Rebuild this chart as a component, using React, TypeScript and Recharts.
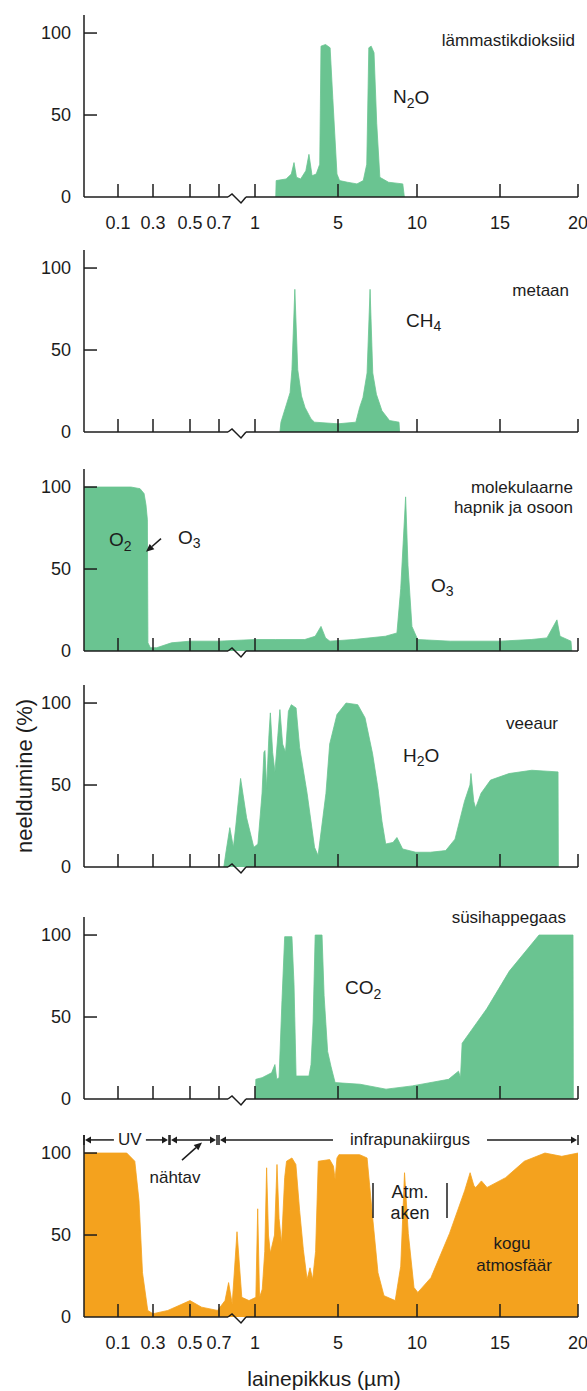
import React from 'react'
import { AreaChart, Area, XAxis, YAxis, ReferenceLine, ReferenceDot } from 'recharts'

const GREEN = '#6ac491'
const ORANGE = '#f4a21e'
const INK = '#1c1c1c'
const FONT = '"Liberation Sans", Arial, Helvetica, sans-serif'

// broken, piecewise x axis: wavelength (µm) -> position along the axis
const AXIS_WL = [0, 0.1, 0.3, 0.5, 0.7, 1, 5, 10, 15, 20]
const AXIS_POS = [0, 34, 69, 106, 135, 171, 254, 333, 416, 494]
const BREAK_POS = 157

const TICK_WL = [0.1, 0.3, 0.5, 0.7, 1, 5, 10, 15, 20]
const TICK_LABELS = ['0.1', '0.3', '0.5', '0.7', '1', '5', '10', '15', '20']
const Y_TICKS = [0, 50, 100]

// lämmastikdioksiid
const N2O_WL = [2.0, 2.02, 2.5, 2.75, 2.88, 3.0, 3.2, 3.45, 3.6, 3.75, 3.95, 4.12, 4.18, 4.4, 4.62, 4.75, 4.95, 5.1, 5.6, 6.2, 6.6, 6.82, 6.95, 7.1, 7.28, 7.45, 7.65, 8.2, 9.1, 9.2]
const N2O_ABS = [0, 10, 11, 14, 21, 12, 11, 16, 26, 13, 14, 20, 92, 93, 91, 60, 14, 10, 9, 8, 10, 20, 91, 92, 88, 45, 12, 9, 8, 0]

// metaan
const CH4_WL = [2.2, 2.25, 2.52, 2.69, 2.78, 2.92, 3.06, 3.24, 3.41, 3.7, 3.87, 5.0, 6.13, 6.37, 6.58, 6.84, 7.03, 7.2, 7.43, 7.78, 8.26, 8.86, 8.9]
const CH4_ABS = [0, 6, 17, 24, 38, 87, 38, 22, 15, 8, 6, 5, 6, 15, 21, 36, 87, 36, 23, 13, 7, 6, 0]

// molekulaarne hapnik ja osoon
const O3_WL = [0, 0.174, 0.226, 0.249, 0.26, 0.268, 0.271, 0.285, 0.32, 0.4, 0.5, 0.7, 1, 2, 3.4, 3.9, 4.18, 4.4, 4.61, 6, 8, 8.73, 8.97, 9.28, 9.43, 9.68, 10.04, 12, 15, 17, 18.01, 18.65, 18.85, 19.55, 19.6]
const O3_ABS = [100, 100, 99, 96, 89, 80, 5, 2, 2, 5, 6, 6, 7, 7, 7, 9, 15, 8, 6, 7, 9, 11, 38, 94, 52, 15, 7, 6, 6, 7, 8, 19, 9, 6, 0]

// veeaur
const H2O_WL = [0.74, 0.76, 0.79, 0.82, 0.84, 0.88, 0.93, 0.99, 1.14, 1.34, 1.43, 1.48, 1.56, 1.67, 1.74, 1.85, 1.96, 2.1, 2.2, 2.33, 2.47, 2.61, 2.75, 2.98, 3.15, 3.51, 3.87, 4.04, 4.27, 4.42, 4.6, 4.95, 5.51, 6.25, 6.71, 7.19, 7.53, 7.78, 8.02, 8.48, 8.73, 9.09, 9.92, 10.8, 11.73, 12.29, 12.86, 13.19, 13.25, 13.42, 13.53, 13.86, 14.43, 15.58, 17.04, 18.72, 18.74]
const H2O_ABS = [0, 10, 24, 12, 25, 54, 30, 12, 14, 45, 70, 71, 48, 80, 94, 70, 58, 80, 96, 75, 70, 95, 99, 97, 73, 45, 12, 7, 30, 45, 75, 93, 100, 99, 91, 69, 48, 28, 14, 15, 18, 11, 9, 9, 10, 17, 40, 50, 57, 40, 36, 45, 53, 57, 59, 58, 0]

// süsihappegaas
const CO2_WL = [1.02, 1.04, 1.34, 1.8, 1.96, 2.05, 2.16, 2.3, 2.43, 2.78, 2.88, 2.98, 3.6, 3.7, 3.8, 3.9, 4.23, 4.33, 4.5, 4.66, 4.86, 6.4, 8.04, 9.7, 11.9, 12.5, 12.62, 12.72, 14.2, 15.6, 17.5, 19.68, 19.7]
const CO2_ABS = [0, 12, 13, 16, 21, 12, 13, 60, 99, 99, 70, 14, 14, 21, 47, 100, 100, 63, 29, 20, 10, 9, 6, 8, 12, 17, 13, 34, 55, 78, 100, 100, 0]

// kogu atmosfäär
const ATM_WL = [0, 0.15, 0.196, 0.22, 0.24, 0.27, 0.3, 0.38, 0.5, 0.58, 0.69, 0.75, 0.78, 0.81, 0.85, 0.89, 0.95, 1.04, 1.13, 1.22, 1.35, 1.47, 1.56, 1.65, 1.74, 1.94, 2.06, 2.16, 2.28, 2.43, 2.52, 2.78, 2.97, 3.15, 3.33, 3.51, 3.65, 3.78, 3.92, 4.05, 4.6, 4.78, 4.86, 4.95, 5.06, 6.37, 6.84, 7.19, 7.53, 7.91, 8.62, 8.97, 9.21, 9.45, 9.81, 10.05, 10.84, 11.96, 12.87, 13.2, 13.43, 13.54, 13.88, 14.22, 15.36, 16.56, 17.88, 18.96, 20]
const ATM_ABS = [100, 100, 95, 71, 27, 4, 2, 4, 10, 6, 4, 10, 21, 8, 52, 12, 10, 12, 66, 12, 17, 40, 91, 50, 39, 50, 93, 60, 45, 85, 95, 97, 93, 65, 41, 23, 30, 23, 40, 95, 96, 92, 84, 97, 99, 99, 97, 61, 27, 13, 10, 31, 88, 51, 18, 15, 24, 51, 77, 88, 80, 79, 83, 79, 85, 95, 100, 98, 100]

function warp(wl: number) {
  for (let i = 1; i < AXIS_WL.length; i++) {
    if (wl <= AXIS_WL[i]) {
      const t = (wl - AXIS_WL[i - 1]) / (AXIS_WL[i] - AXIS_WL[i - 1])
      return AXIS_POS[i - 1] + t * (AXIS_POS[i] - AXIS_POS[i - 1])
    }
  }
  return AXIS_POS[AXIS_POS.length - 1]
}

const TICK_POS = TICK_WL.map(warp)

function rows(wl: number[], abs: number[]) {
  const n = Math.min(wl.length, abs.length)
  return wl.slice(0, n).map((w, i) => ({ x: warp(w), a: abs[i] }))
}

const PLOT_H = 182
const TOP = 12

const txt = { fontFamily: FONT, fill: INK }

function XTick(props: any) {
  const { x, y, payload, showLabel } = props
  const i = TICK_POS.findIndex((v) => Math.abs(v - payload.value) < 0.01)
  return (
    <g>
      <line x1={x} x2={x} y1={y} y2={y - 13} stroke={INK} strokeWidth={1.5} />
      {showLabel && (
        <text x={x} y={y + 26} textAnchor="middle" dominantBaseline="central" fontSize={18} {...txt}>
          {TICK_LABELS[i]}
        </text>
      )}
    </g>
  )
}

function YTick(props: any) {
  const { x, y, payload } = props
  return (
    <g>
      {payload.value > 0 && <line x1={x} x2={x + 13} y1={y} y2={y} stroke={INK} strokeWidth={1.5} />}
      <text x={x - 13} y={y} textAnchor="end" dominantBaseline="central" fontSize={18} {...txt}>
        {payload.value}
      </text>
    </g>
  )
}

function BreakMark(props: any) {
  const yb = Math.max(props.y1, props.y2)
  const x = props.x1
  return (
    <path
      d={`M${x - 13},${yb} L${x - 9},${yb - 3} L${x},${yb + 6} L${x + 5},${yb}`}
      fill="none"
      stroke={INK}
      strokeWidth={1.5}
    />
  )
}

function note(key: string, x: number, y: number, body: React.ReactNode, anchor = 'start', size = 17) {
  return (
    <ReferenceDot
      key={key}
      x={x}
      y={y}
      r={1}
      ifOverflow="visible"
      shape={(p: any) => (
        <text x={p.cx} y={p.cy} textAnchor={anchor} dominantBaseline="central" fontSize={size} {...txt}>
          {body}
        </text>
      )}
    />
  )
}

function formula(main: string, sub: string, tail = '') {
  return (
    <>
      {main}
      <tspan fontSize={14} dy={6}>{sub}</tspan>
      {tail && <tspan dy={-6}>{tail}</tspan>}
    </>
  )
}

function ArrowShape(props: any) {
  const { x1, y1, x2, y2 } = props
  const a = Math.atan2(y2 - y1, x2 - x1)
  const c = Math.cos(a)
  const s = Math.sin(a)
  const bx = x2 - 8 * c
  const by = y2 - 8 * s
  return (
    <g>
      <line x1={x1} y1={y1} x2={bx} y2={by} stroke={INK} strokeWidth={1.5} />
      <polygon points={`${x2},${y2} ${bx + 3.5 * s},${by - 3.5 * c} ${bx - 3.5 * s},${by + 3.5 * c}`} fill={INK} />
    </g>
  )
}

function arrow(key: string, from: number[], to: number[]) {
  return (
    <ReferenceLine
      key={key}
      segment={[{ x: from[0], y: from[1] }, { x: to[0], y: to[1] }]}
      ifOverflow="visible"
      shape={ArrowShape}
    />
  )
}

// |<--- label --->| span used for UV / nähtav / infrapunakiirgus
function span(key: string, from: number, to: number, y: number, label = '', at = 0.5, gap = 0) {
  const shape = (p: any) => {
    const { x1, x2, y1: yy } = p
    const mid = x1 + (x2 - x1) * at
    return (
      <g>
        <line x1={x1} x2={x1} y1={yy - 5} y2={yy + 5} stroke={INK} strokeWidth={1.5} />
        <line x1={x2} x2={x2} y1={yy - 5} y2={yy + 5} stroke={INK} strokeWidth={1.5} />
        <polygon points={`${x1 + 1},${yy} ${x1 + 7},${yy - 3.5} ${x1 + 7},${yy + 3.5}`} fill={INK} />
        <polygon points={`${x2 - 1},${yy} ${x2 - 7},${yy - 3.5} ${x2 - 7},${yy + 3.5}`} fill={INK} />
        {label ? (
          <>
            <line x1={x1 + 6} x2={mid - gap} y1={yy} y2={yy} stroke={INK} strokeWidth={1.5} />
            <line x1={mid + gap} x2={x2 - 6} y1={yy} y2={yy} stroke={INK} strokeWidth={1.5} />
            <text x={mid} y={yy} textAnchor="middle" dominantBaseline="central" fontSize={17} {...txt}>
              {label}
            </text>
          </>
        ) : (
          <line x1={x1 + 6} x2={x2 - 6} y1={yy} y2={yy} stroke={INK} strokeWidth={1.5} />
        )}
      </g>
    )
  }
  return (
    <ReferenceLine
      key={key}
      segment={[{ x: from, y }, { x: to, y }]}
      ifOverflow="visible"
      shape={shape}
    />
  )
}

function bar(key: string, x: number, lo: number, hi: number) {
  return (
    <ReferenceLine
      key={key}
      segment={[{ x, y: lo }, { x, y: hi }]}
      ifOverflow="visible"
      stroke={INK}
      strokeWidth={1.5}
    />
  )
}

const yTitle = (p: any) => {
  const vb = p.viewBox
  return (
    <text
      transform={`translate(24, ${vb.y + vb.height / 2}) rotate(-90)`}
      textAnchor="middle"
      dominantBaseline="central"
      fontSize={22}
      {...txt}
    >
      neeldumine (%)
    </text>
  )
}

const xTitle = (p: any) => {
  const vb = p.viewBox
  return (
    <text x={vb.x + vb.width / 2 - 7} y={vb.y + 61} textAnchor="middle" dominantBaseline="central" fontSize={21} {...txt}>
      lainepikkus (µm)
    </text>
  )
}

type PanelProps = {
  y0: number
  data: { x: number; a: number }[]
  color: string
  labels?: boolean
  notes: React.ReactNode[]
  withYTitle?: boolean
  withXTitle?: boolean
}

function Panel({ y0, data, color, labels, notes, withYTitle, withXTitle }: PanelProps) {
  const bottom = withXTitle ? 40 : 6
  const height = TOP + PLOT_H + 34 + bottom
  return (
    <div style={{ position: 'absolute', left: 0, top: y0 - PLOT_H - TOP }}>
      <AreaChart width={587} height={height} data={data} margin={{ top: TOP, right: 9, bottom, left: 0 }}>
        <XAxis
          type="number"
          dataKey="x"
          domain={[0, 494]}
          ticks={TICK_POS}
          interval={0}
          tickSize={0}
          tickMargin={0}
          tickLine={false}
          axisLine={false}
          height={34}
          tick={(p: any) => <XTick {...p} showLabel={labels} />}
          label={withXTitle ? xTitle : undefined}
        />
        <YAxis
          type="number"
          domain={[0, 111]}
          ticks={Y_TICKS}
          interval={0}
          width={84}
          tickSize={0}
          tickMargin={0}
          tickLine={false}
          axisLine={{ stroke: INK, strokeWidth: 1.5 }}
          tick={YTick}
          label={withYTitle ? yTitle : undefined}
        />
        <Area
          type="linear"
          dataKey="a"
          stroke={color}
          strokeWidth={0.8}
          fill={color}
          fillOpacity={1}
          dot={false}
          activeDot={false}
          isAnimationActive={false}
        />
        <ReferenceLine segment={[{ x: 0, y: 0 }, { x: BREAK_POS - 13, y: 0 }]} stroke={INK} strokeWidth={1.5} ifOverflow="visible" />
        <ReferenceLine segment={[{ x: BREAK_POS + 5, y: 0 }, { x: 494, y: 0 }]} stroke={INK} strokeWidth={1.5} ifOverflow="visible" />
        <ReferenceLine x={BREAK_POS} ifOverflow="visible" shape={BreakMark} />
        {notes}
      </AreaChart>
    </div>
  )
}

export default function App() {
  return (
    <div style={{ position: 'absolute', left: 0, top: 0, width: 587, height: 1391, background: '#fff' }}>
      <Panel
        y0={197}
        data={rows(N2O_WL, N2O_ABS)}
        color={GREEN}
        labels
        notes={[
          note('t', 491, 95.7, 'lämmastikdioksiid', 'end', 17),
          note('f', 309, 61, formula('N', '2', 'O'), 'start', 19),
        ]}
      />
      <Panel
        y0={432}
        data={rows(CH4_WL, CH4_ABS)}
        color={GREEN}
        notes={[
          note('t', 485, 86.6, 'metaan', 'end', 17),
          note('f', 322, 68.3, formula('CH', '4'), 'start', 19),
        ]}
      />
      <Panel
        y0={651}
        data={rows(O3_WL, O3_ABS)}
        color={GREEN}
        notes={[
          note('t1', 489, 100, 'molekulaarne', 'end', 17),
          note('t2', 489, 87.8, 'hapnik ja osoon', 'end', 17),
          note('o2', 25, 67.7, formula('O', '2'), 'start', 19),
          note('o3a', 94, 69.5, formula('O', '3'), 'start', 19),
          arrow('ar', [77, 68.5], [62, 60.5]),
          note('o3b', 347, 40, formula('O', '3'), 'start', 19),
        ]}
      />
      <Panel
        y0={867}
        data={rows(H2O_WL, H2O_ABS)}
        color={GREEN}
        withYTitle
        notes={[
          note('t', 474, 87.8, 'veeaur', 'end', 17),
          note('f', 319, 68.3, formula('H', '2', 'O'), 'start', 19),
        ]}
      />
      <Panel
        y0={1099}
        data={rows(CO2_WL, CO2_ABS)}
        color={GREEN}
        notes={[
          note('t', 482, 110.5, 'süsihappegaas', 'end', 17),
          note('f', 261, 67.7, formula('CO', '2'), 'start', 19),
        ]}
      />
      <Panel
        y0={1317}
        data={rows(ATM_WL, ATM_ABS)}
        color={ORANGE}
        labels
        withXTitle
        notes={[
          span('uv', 0, 85, 108, 'UV', 0.54, 16),
          span('vis', 86, 133, 108),
          span('ir', 135, 494, 108, 'infrapunakiirgus', 0.532, 77),
          note('vis-t', 91, 84.8, 'nähtav', 'middle', 17),
          arrow('vis-a', [98, 95.7], [118, 106.5]),
          note('atm1', 326, 76, 'Atm.', 'middle', 18),
          note('atm2', 326, 63.4, 'aken', 'middle', 18),
          bar('b1', 289, 60.4, 81.7),
          bar('b2', 363, 60.4, 81.7),
          note('k1', 428, 45, 'kogu', 'middle', 17),
          note('k2', 430, 31.7, 'atmosfäär', 'middle', 17),
        ]}
      />
    </div>
  )
}
